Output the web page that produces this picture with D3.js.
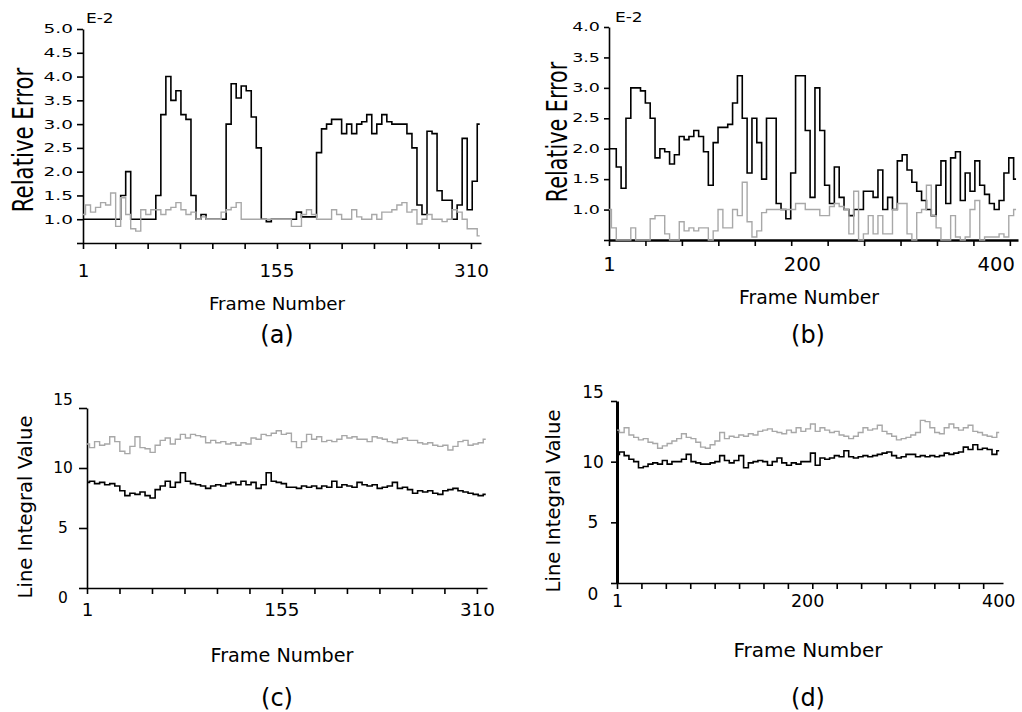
<!DOCTYPE html>
<html><head><meta charset="utf-8">
<script src="https://cdn.jsdelivr.net/npm/d3@7"></script>
<style>
body{margin:0;background:#fff}
svg{display:block;background:#fff}
text{font-family:"DejaVu Sans",sans-serif;fill:#000}
</style>
</head><body>
<svg id="chart" width="1022" height="712"></svg>
<script>
// ---------- data (one sample every `step` frames) ----------
const aStep = 4;
const aBlack = [1.0,1.0,1.0,1.0,1.0,1.0,1.0,1.0,1.5,2.0,
 1.0,1.0,1.0,1.0,1.0,1.5,3.2,4.0,3.5,3.7,
 3.2,3.1,1.5,1.0,1.1,1.0,1.0,1.0,1.0,3.0,
 3.85,3.55,3.8,3.7,3.15,2.5,1.0,0.95,1.0,1.0,
 1.0,1.0,1.0,1.15,1.05,1.05,1.05,2.4,2.9,3.0,
 3.1,3.1,2.8,3.0,2.8,3.0,3.05,3.2,2.8,3.0,
 3.2,3.05,3.0,3.0,3.0,2.8,2.5,1.3,1.1,2.85,
 2.8,1.6,1.4,1.4,1.0,1.3,2.7,1.2,1.8,3.0];
const aGrey = [1.1,1.3,1.15,1.25,1.35,1.3,1.55,0.85,1.45,1.1,
 0.8,0.75,1.2,1.1,1.2,1.2,1.1,1.2,1.25,1.35,
 1.2,1.1,1.15,1.0,1.05,1.0,1.0,1.0,1.15,1.2,
 1.25,1.35,1.0,1.0,1.0,1.0,1.0,1.0,1.0,1.0,
 1.0,1.0,0.85,0.85,1.1,1.2,1.1,1.0,1.0,1.0,
 1.2,1.1,1.0,1.0,1.2,1.05,1.0,1.0,1.1,1.0,
 1.15,1.15,1.2,1.3,1.35,1.15,1.2,0.9,1.0,1.1,
 1.0,1.0,0.95,1.0,1.2,1.15,1.0,0.8,0.8,0.65];
const aYTicks = [0.5,1.0,1.5,2.0,2.5,3.0,3.5,4.0,4.5,5.0];
const aXLabels = [1,155,310];

const bStep = 5;
const bBlack = [2.0,2.0,1.7,1.35,2.5,3.0,3.0,2.95,2.75,2.5,
 1.85,2.0,1.95,1.75,1.9,2.2,2.15,2.2,2.3,2.2,
 1.95,1.4,2.1,2.35,2.35,2.4,2.75,3.2,2.5,1.6,
 2.5,2.1,1.5,2.5,2.5,1.1,1.0,0.85,1.6,3.2,
 3.2,2.3,1.2,3.0,2.3,1.4,1.1,1.7,1.2,1.0,
 0.9,1.0,1.0,1.3,1.3,1.2,1.65,1.0,1.2,1.0,
 1.8,1.9,1.65,1.45,1.3,1.15,1.0,0.9,1.4,1.8,
 1.1,1.85,1.95,1.15,1.6,1.3,1.8,1.4,1.25,1.1,
 1.0,1.15,1.6,1.85,1.5];
const bGrey = [1.0,0.7,0.5,0.5,0.5,0.7,0.5,0.5,0.5,0.85,
 0.9,0.9,0.6,0.5,0.5,0.8,0.65,0.7,0.65,0.7,
 0.7,0.5,0.65,1.0,0.7,0.7,1.0,0.9,1.45,0.8,
 0.55,0.65,0.95,1.0,1.0,1.0,1.0,1.0,1.0,1.1,
 1.1,1.0,1.0,1.0,0.9,0.9,1.05,1.1,1.05,1.0,
 0.6,1.3,0.5,0.6,0.9,0.6,0.9,0.6,0.6,1.0,
 1.1,1.1,0.6,0.5,0.95,1.0,1.4,0.9,0.7,0.5,
 0.5,0.9,0.55,0.5,0.55,1.0,1.15,0.5,0.55,0.55,
 0.55,0.6,0.55,0.9,1.0];
const bYTicks = [0.5,1.0,1.5,2.0,2.5,3.0,3.5,4.0];
const bXLabels = [1,200,400];

const cStep = 4;
const cGrey = [12.0,11.7,12.2,11.9,12.0,12.6,12.2,11.4,11.2,11.8,
 12.6,11.7,11.6,11.3,11.9,12.3,12.5,12.0,12.4,12.8,
 12.5,12.8,12.7,12.6,12.1,12.3,12.1,12.2,12.0,12.1,
 11.9,12.1,12.0,12.5,12.4,12.8,12.7,12.9,13.1,12.8,
 12.9,12.2,11.7,12.2,12.8,12.4,12.6,12.2,12.3,12.2,
 12.4,12.7,12.5,12.6,12.4,12.4,12.2,12.6,12.5,12.4,
 12.2,12.1,12.4,12.5,12.3,12.3,12.1,12.0,12.1,11.9,
 11.8,11.9,11.5,11.8,12.2,12.3,11.9,12.0,12.1,12.4];
const cBlack = [8.8,8.9,8.7,8.8,8.6,8.7,8.5,8.1,7.7,7.9,
 7.8,8.0,7.7,7.5,8.2,8.5,8.9,8.4,8.8,9.6,
 8.9,8.7,8.6,8.5,8.3,8.5,8.6,8.5,8.7,8.8,
 8.6,8.9,8.6,8.8,8.3,8.6,9.6,8.9,8.8,8.7,
 8.4,8.4,8.3,8.5,8.4,8.5,8.3,8.5,8.4,8.9,
 8.4,8.6,8.5,8.4,8.8,8.6,8.5,8.6,8.3,8.4,
 8.5,8.8,8.3,8.4,8.2,7.9,8.1,8.0,8.1,7.9,
 7.8,8.1,8.2,8.3,8.1,8.0,7.9,7.8,7.7,7.8];
const cYTicks = [0,5,10,15];
const cXLabels = [1,155,310];

const dStep = 5;
const dGrey = [12.6,12.4,12.8,12.2,12.0,11.8,11.9,11.6,11.5,11.1,
 11.3,11.5,11.7,11.9,12.3,12.0,11.9,11.6,11.2,11.1,
 11.4,11.7,12.4,11.9,12.1,12.0,12.2,12.1,12.3,12.2,
 12.5,12.6,12.7,12.5,12.4,12.3,12.6,12.4,12.8,12.5,
 12.7,13.1,12.5,12.8,12.6,12.4,12.5,12.2,12.1,11.9,
 12.1,12.4,12.8,12.6,12.7,13.0,12.5,12.3,12.1,11.8,
 11.9,12.0,12.2,12.4,13.4,13.3,12.8,12.4,12.3,12.8,
 13.1,12.8,12.6,12.8,13.0,12.5,12.4,12.2,12.1,12.0,12.4];
const dBlack = [10.6,10.8,10.5,10.2,10.0,9.5,9.6,9.8,9.9,9.8,
 10.1,9.8,10.0,10.0,10.2,10.6,10.0,9.9,9.8,9.8,
 9.9,10.0,10.5,10.1,9.9,10.1,10.5,9.5,9.9,10.0,
 10.1,10.0,9.7,10.0,10.3,9.9,9.7,9.9,9.8,10.0,
 10.0,10.7,9.7,10.3,10.2,10.3,10.5,10.4,10.9,10.4,
 10.3,10.4,10.5,10.4,10.5,10.6,10.7,10.8,10.5,10.3,
 10.4,10.6,10.6,10.4,10.5,10.4,10.5,10.4,10.5,10.7,
 10.6,10.7,10.8,11.2,11.0,11.4,11.0,11.1,11.0,10.6,10.9];
const dYTicks = [0,5,10,15];
const dXLabels = [1,200,400];

// ---------- drawing ----------
const svg = d3.select("#chart");
svg.append("rect").attr("width",1022).attr("height",712).attr("fill","#fff");

function panel(p){
  const x = d3.scaleLinear().domain(p.xDom).range(p.xRng);
  const y = d3.scaleLinear().domain(p.yDom).range(p.yRng);
  const g = svg.append("g");

  // x axis (tick marks only)
  const tickFrames = d3.range(p.nTicks).map(k => p.xDom[0] + k*p.tickStep);
  g.append("g").attr("transform",`translate(0,${p.yRng[0]})`)
    .call(d3.axisBottom(x).tickValues(tickFrames).tickFormat("").tickSize(6).tickSizeOuter(0))
    .call(a => a.select(".domain").attr("stroke","#000").attr("stroke-width",p.xAxisW))
    .call(a => a.selectAll(".tick line").attr("stroke","#000").attr("stroke-width",1.6));

  // x labels
  g.append("g").attr("transform",`translate(0,${p.yRng[0]})`)
    .call(d3.axisBottom(x).tickValues(p.xLabels).tickSize(0).tickPadding(p.xLabPad))
    .call(a => a.select(".domain").remove())
    .call(a => a.selectAll("text").style("font-size",p.xLabFs+"px").style("font-family",'"DejaVu Sans",sans-serif'));

  // y axis
  const ya = g.append("g").attr("transform",`translate(${p.xRng[0]},0)`)
    .call(d3.axisLeft(y).tickValues(p.yTicks).tickFormat(p.yFmt).tickSize(p.yTickSize).tickSizeOuter(0).tickPadding(p.yPad))
    .call(a => a.select(".domain").attr("stroke","#000").attr("stroke-width",p.yAxisW))
    .call(a => a.selectAll(".tick line").attr("stroke","#000").attr("stroke-width",1.6))
    .call(a => a.selectAll("text").style("font-size",p.yLabFs+"px").style("font-family",'"DejaVu Sans",sans-serif'));
  if (p.ySquash) ya.selectAll("text").attr("transform",`scale(1,${p.ySquash})`);
  if (p.yCenter) {
    ya.selectAll("text").attr("text-anchor","middle").attr("x",-p.yCenter)
      .attr("dy", d => d === p.yDom[0] ? "0.95em" : (d === p.yDom[1] ? "-0.2em" : "0.32em"));
  }

  // lines
  const mk = (arr, step) => d3.line().curve(d3.curveStep)
      .x((d,i) => x(p.xDom[0] + i*step)).y(d => y(d))(arr);
  const order = p.greyOnTop ? [["black",p.black],["grey",p.grey]] : [["grey",p.grey],["black",p.black]];
  order.forEach(([k,arr]) => {
    g.append("path").attr("d", mk(arr,p.step)).attr("fill","none")
      .attr("stroke", k==="black" ? "#000" : "#a8a8a8")
      .attr("stroke-width", k==="black" ? 1.6 : 1.4)
      .attr("stroke-linejoin","miter");
  });

  // y title
  g.append("text").attr("text-anchor","middle")
    .attr("transform",`translate(${p.yTitle[0]},${p.yTitle[1]}) rotate(-90) scale(${p.yTitleSx},1)`)
    .style("font-size",p.yTitleFs+"px").text(p.yTitleText);
  // exponent marker
  if (p.exp) {
    g.append("text").attr("transform",`translate(${p.exp[0]},${p.exp[1]}) scale(1,0.8)`)
      .style("font-size","17px").text("E-2");
  }
  // x title
  g.append("text").attr("x",p.xTitle[0]).attr("y",p.xTitle[1]).attr("text-anchor","middle")
    .style("font-size",p.xTitleFs+"px").text("Frame Number");
  // panel letter
  g.append("text").attr("x",p.letter[0]).attr("y",p.letter[1]).attr("text-anchor","middle")
    .style("font-size","24px").text(p.letterText);
}

const fmt1 = v => v === 0.5 ? "" : v.toFixed(1);
const fmt0 = v => String(v);

panel({xDom:[1,318], xRng:[83,481], yDom:[0.5,5.0], yRng:[243,29], step:aStep,
  black:aBlack, grey:aGrey, greyOnTop:true, nTicks:13, tickStep:309/12,
  xLabels:aXLabels, xLabPad:21, xLabFs:18.3, xAxisW:1.6, yAxisW:1.6,
  yTicks:aYTicks, yFmt:fmt1, yTickSize:6, yPad:4, yLabFs:18.5, ySquash:0.66,
  yTitle:[33,140], yTitleSx:0.76, yTitleFs:28, yTitleText:"Relative Error",
  exp:[86,23], xTitle:[277,310], xTitleFs:18.3, letter:[277,343], letterText:"(a)"});

panel({xDom:[1,423], xRng:[609,1018], yDom:[0.5,4.0], yRng:[240,27], step:bStep,
  black:bBlack, grey:bGrey, greyOnTop:true, nTicks:12, tickStep:37.6,
  xLabels:bXLabels, xLabPad:17, xLabFs:19.5, xAxisW:2.4, yAxisW:1.6,
  yTicks:bYTicks, yFmt:fmt1, yTickSize:5, yPad:4, yLabFs:17.5, ySquash:0.66,
  yTitle:[567,132], yTitleSx:0.74, yTitleFs:28, yTitleText:"Relative Error",
  exp:[615,22], xTitle:[809,304], xTitleFs:18.8, letter:[808,343], letterText:"(b)"});

panel({xDom:[1,318], xRng:[87,487], yDom:[0,15], yRng:[588,408], step:cStep,
  black:cBlack, grey:cGrey, greyOnTop:false, nTicks:13, tickStep:309/12,
  xLabels:cXLabels, xLabPad:15, xLabFs:18.3, xAxisW:1.6, yAxisW:1.6,
  yTicks:cYTicks, yFmt:fmt0, yTickSize:8, yPad:4, yLabFs:15.5, yCenter:24,
  yTitle:[32,507], yTitleSx:1, yTitleFs:19.6, yTitleText:"Line Integral Value",
  exp:null, xTitle:[282,662], xTitleFs:19.2, letter:[277,706], letterText:"(c)"});

panel({xDom:[1,405], xRng:[617,1003], yDom:[0,15], yRng:[583,401], step:dStep,
  black:dBlack, grey:dGrey, greyOnTop:false, nTicks:16, tickStep:25.55,
  xLabels:dXLabels, xLabPad:12, xLabFs:17.5, xAxisW:1.4, yAxisW:3,
  yTicks:dYTicks, yFmt:fmt0, yTickSize:6, yPad:4, yLabFs:17, yCenter:24,
  yTitle:[560,501], yTitleSx:1, yTitleFs:19.6, yTitleText:"Line Integral Value",
  exp:null, xTitle:[808,657], xTitleFs:20, letter:[808,706], letterText:"(d)"});
</script>
</body></html>
